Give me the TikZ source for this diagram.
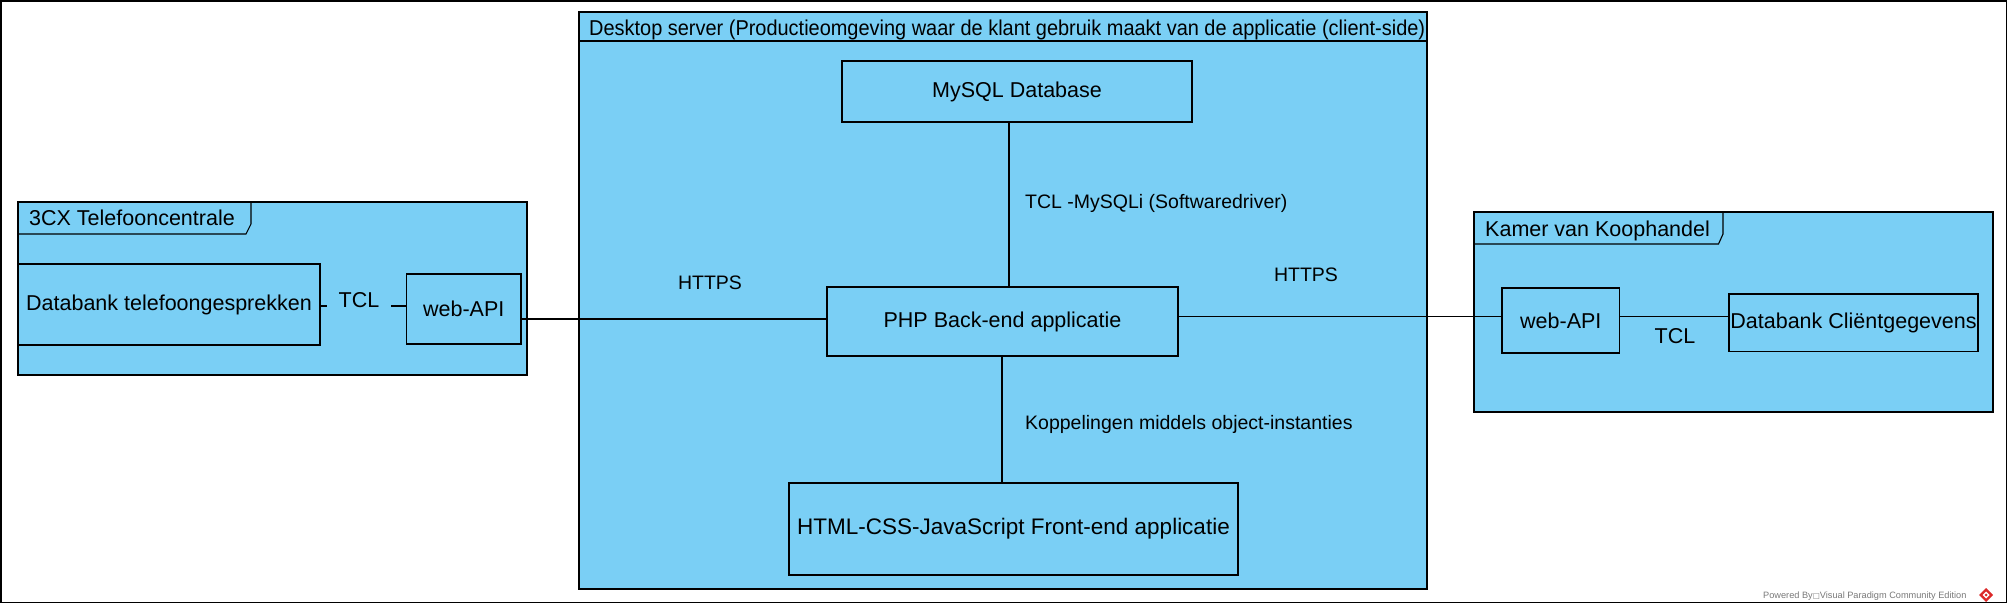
\documentclass[tikz,border=0pt]{standalone}
\usepackage{fontspec}
\setmainfont{Liberation Sans}
\newfontfamily\symfont{DejaVu Sans}
\usetikzlibrary{calc}
\definecolor{vpblue}{RGB}{122,207,245}
\definecolor{vpgrey}{RGB}{120,120,120}
\definecolor{vpred}{RGB}{220,40,40}
\begin{document}
\begin{tikzpicture}[x=1pt,y=-1pt,
  frame/.style={draw, line width=1.1pt, fill=vpblue, inner sep=0pt},
  box/.style={draw, line width=1.1pt, fill=vpblue, inner sep=0pt, align=center,
    font=\fontsize{21.5}{24}\selectfont},
  lbl/.style={inner sep=0pt, font=\fontsize{19.5}{22}\selectfont},
  tlbl/.style={inner sep=0pt, font=\fontsize{21.5}{24}\selectfont},
  conn/.style={line width=1.1pt}]
\useasboundingbox (0,0) rectangle (2007,603);
\draw[line width=1.5pt] (0.75,0.75) rectangle (2006.25,602.25);

% ---------- left frame: 3CX ----------
\node[frame, minimum width=509pt, minimum height=173pt] (f3cx) at (272.5,288.5) {};
\draw[line width=1.1pt] (18,234) -- (246,234) -- (251,224) -- (251,202);
\node[tlbl, anchor=base west] (t3cx) at (29,225) {3CX Telefooncentrale};
\node[box, minimum width=302pt, minimum height=81pt] (dbt) at (169,304.5) {Databank telefoongesprekken};
\node[box, minimum width=114.5pt, minimum height=70pt] (wapiL) at (463.75,309) {web-API};
\node[tlbl, anchor=base, minimum width=64pt] (tclL) at (359,307) {TCL};
\draw[conn] (dbt.east |- 0,306) -- (tclL.west |- 0,306);
\draw[conn] (tclL.east |- 0,306) -- (wapiL.west |- 0,306);

% ---------- main frame: desktop server ----------
\node[frame, minimum width=848pt, minimum height=577pt] (fmain) at (1003,300.5) {};
\draw[line width=1.1pt] (579,41) -- (1427,41);
\node[inner sep=0pt, anchor=base west] (tmain) at (589,35)
  {\resizebox{836pt}{\height}{\fontsize{21.5}{24}\selectfont Desktop server (Productieomgeving waar de klant gebruik maakt van de applicatie (client-side)}};
\node[box, minimum width=350pt, minimum height=61pt] (mysql) at (1017,91.5) {MySQL Database};
\node[box, minimum width=351pt, minimum height=69pt] (php) at (1002.5,321.5) {PHP Back-end applicatie};
\node[box, minimum width=449pt, minimum height=92pt, font=\fontsize{22.5}{25}\selectfont] (html) at (1013.5,529) {HTML-CSS-JavaScript Front-end applicatie};

\draw[conn] (mysql.south -| 1009,0) -- (php.north -| 1009,0);
\draw[conn] (php.south -| 1002,0) -- (html.north -| 1002,0);

\node[lbl, anchor=base west] (lmysqli) at (1025,208) {TCL -MySQLi (Softwaredriver)};
\node[lbl, anchor=base west] (lkopp) at (1025,429) {Koppelingen middels object-instanties};
\node[lbl, anchor=base] (lhttpsL) at (710,289) {HTTPS};
\node[lbl, anchor=base] (lhttpsR) at (1306,281) {HTTPS};

% ---------- right frame: KvK ----------
\node[frame, minimum width=519pt, minimum height=200pt] (fkvk) at (1733.5,312) {};
\draw[line width=1.1pt] (1474,244) -- (1718.5,244) -- (1723,234) -- (1723,212);
\node[tlbl, anchor=base west] (tkvk) at (1485,236) {Kamer van Koophandel};
\node[box, minimum width=117.6pt, minimum height=65pt] (wapiR) at (1560.8,320.5) {web-API};
\node[box, minimum width=249pt, minimum height=57.8pt] (dbc) at (1853.5,322.9) {Databank Cliëntgegevens};
\node[tlbl, anchor=base] (tclR) at (1675,343) {TCL};

% ---------- connectors between frames ----------
\draw[conn] (wapiL.east |- 0,319) -- (php.west |- 0,319);
\draw[conn] (php.east |- 0,316.7) -- (wapiR.west |- 0,316.7);
\draw[conn] (wapiR.east |- 0,316.7) -- (dbc.west |- 0,316.7);

% ---------- footer ----------
\node[inner sep=0pt, anchor=west, text=vpgrey, font=\fontsize{9.2}{11}\selectfont] (powered) at (1763,596)
  {Powered By{\symfont\fontsize{7.5}{9}\selectfont □}Visual Paradigm Community Edition};
\fill[vpred] (1986,588) -- (1993,595) -- (1986,602) -- (1979,595) -- cycle;
\fill[white] (1986,591.5) -- (1989.5,595) -- (1986,598.5) -- (1982.5,595) -- cycle;
\fill[vpred] (1986,593.5) -- (1987.5,595) -- (1986,596.5) -- (1984.5,595) -- cycle;
\end{tikzpicture}
\end{document}
